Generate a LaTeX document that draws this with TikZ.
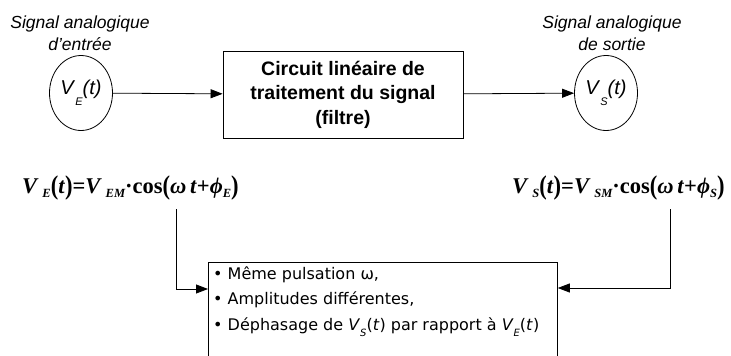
\documentclass[tikz,border=0pt]{standalone}
\usepackage{fontspec}
\setmainfont{Liberation Sans}
\newfontfamily\eqfont{Liberation Serif}
\newfontfamily\notefont{DejaVu Sans}
\usetikzlibrary{arrows.meta,shapes.geometric}

% signal name inside a circle: V with a lowered index and (t)
\newcommand\signame[1]{\textit{V}\raisebox{-11pt}{\fontsize{11}{12}\selectfont\itshape #1}\textit{(t)}}
% lowered index in the serif formulas
\newcommand\eqidx[1]{\raisebox{-4.5pt}{\fontsize{12.5}{13}\selectfont\itshape #1}}
% taller brackets of the serif formulas
\newcommand\lbr{\raisebox{-1.5pt}{\scalebox{1}[1.2]{(}}}
\newcommand\rbr{\raisebox{-1.5pt}{\scalebox{1}[1.2]{)}}}
% lowered index in the notes
\newcommand\noteidx[1]{\raisebox{-6.5pt}{\fontsize{10}{11}\selectfont\itshape #1}}
% straight apostrophe
\newcommand\apos{{\char"27}}

\tikzset{
  wire/.style={line width=0.8pt, -{Triangle[length=12pt,width=9pt]}},
  sig/.style={draw, ellipse, line width=0.8pt, minimum width=63pt,
              minimum height=75pt, inner sep=0pt, font=\fontsize{20}{22}\selectfont},
  caption/.style={font=\fontsize{17.5}{22}\selectfont\itshape, align=center, inner sep=0pt},
  block/.style={draw, line width=0.8pt, minimum width=240pt, minimum height=87pt,
                inner sep=0pt, font=\fontsize{19.5}{24.5}\selectfont\bfseries, align=center},
  eq/.style={font=\fontsize{22.5}{24}\selectfont\eqfont\bfseries, inner sep=0pt, anchor=base west},
  notebox/.style={draw, line width=0.8pt, anchor=north west, minimum width=349pt,
                  minimum height=120pt, inner sep=0pt},
  notes/.style={font=\fontsize{16}{25.5}\selectfont\notefont, align=left,
                inner sep=0pt, anchor=base west},
}

\begin{document}
\begin{tikzpicture}[x=1pt, y=-1pt]
  \useasboundingbox (0,0) rectangle (731,356);
  \clip (0,0) rectangle (731,356);

  % input / output signals
  \node[sig] (vin) at (81,93) {\signame{E}};
  \node[sig] (vout) at (606,93) {\signame{S}};
  \node[caption, anchor=base] (capin) at (80,50) {Signal analogique\\d\apos entrée};
  \node[caption, anchor=base] (capout) at (612,50) {Signal analogique\\de sortie};

  % processing block
  \node[block] (filt) at (343,94.5) {Circuit linéaire de\\traitement du signal\\(filtre)};

  \draw[wire] (vin) -- (filt);
  \draw[wire] (filt) -- (vout);

  % signal expressions
  \node[eq] (eqin) at (22,193)
    {\textit{V}\,\eqidx{E}\lbr\textit{t}\rbr=\textit{V}\,\eqidx{EM}·cos\lbr\textit{ω\,t}+\textit{ϕ}\eqidx{E}\rbr};
  \node[eq] (eqout) at (512,193)
    {\textit{V}\,\eqidx{S}\lbr\textit{t}\rbr=\textit{V}\,\eqidx{SM}·cos\lbr\textit{ω\,t}+\textit{ϕ}\eqidx{S}\rbr};

  % comparison of the two signals
  \node[notebox] (cmp) at (208,262) {};
  \node[notes] (cmptext) at (213,330)
    {• Même pulsation ω,\\
     • Amplitudes différentes,\\
     • Déphasage de \textit{V}\noteidx{S}(\textit{t}) par rapport à \textit{V}\noteidx{E}(\textit{t})};

  \coordinate (tapin) at (176,209);
  \coordinate (tapout) at (670,209);
  \draw[wire] (tapin) |- (cmp.west |- 0,289);
  \draw[wire] (tapout) |- (cmp.east |- 0,288);
\end{tikzpicture}
\end{document}
